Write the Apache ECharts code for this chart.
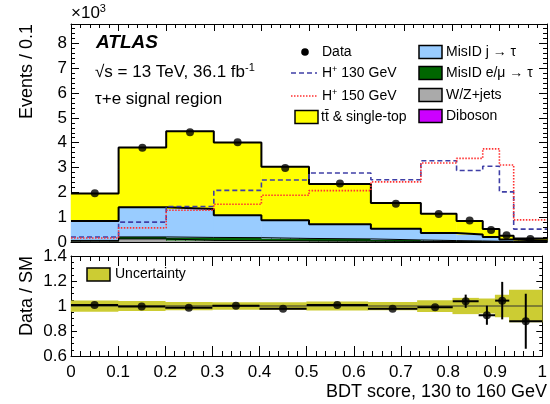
<!DOCTYPE html>
<html>
<head>
<meta charset="utf-8">
<script src="https://cdn.jsdelivr.net/npm/echarts@6/dist/echarts.min.js"></script>
<style>
  html, body { margin: 0; padding: 0; background: #fff; }
  #chart { width: 550px; height: 404px; }
</style>
</head>
<body>
<div id="chart"></div>
<script>
// Variable-width BDT score bins
const binEdges = [0, 0.1, 0.2, 0.3, 0.4, 0.5, 0.63, 0.735, 0.81, 0.865, 0.9, 0.93, 1.0];

// Event yields per bin, in units of 10^3
const dataEvents = [1.96, 3.80, 4.42, 4.02, 2.98, 2.36, 1.54, 1.13, 0.87, 0.48, 0.27, 0.12];
const ttbar      = [1.11, 2.41, 3.14, 2.93, 2.16, 1.62, 1.04, 0.77, 0.54, 0.32, 0.16, 0.09];
const misidJet   = [0.78, 1.19, 1.14, 0.90, 0.73, 0.59, 0.45, 0.31, 0.26, 0.17, 0.08, 0.04];
const misidLep   = [0.03, 0.08, 0.12, 0.12, 0.10, 0.09, 0.06, 0.04, 0.03, 0.02, 0.01, 0.008];
const wzJets     = [0.03, 0.12, 0.06, 0.05, 0.04, 0.03, 0.02, 0.015, 0.01, 0.008, 0.005, 0.003];
const diboson    = [0.003, 0.005, 0.005, 0.005, 0.004, 0.004, 0.003, 0.002, 0.002, 0.001, 0.001, 0.001];
const hplus130   = [0.20, 0.80, 1.43, 2.08, 2.50, 2.78, 2.51, 3.27, 2.88, 3.05, 2.02, 0.52];
const hplus150   = [0.16, 0.57, 1.28, 1.52, 1.88, 2.07, 2.42, 3.18, 3.37, 3.75, 3.10, 0.89];

// Data / SM ratio panel
const ratio      = [1.008, 0.997, 0.986, 1.003, 0.979, 1.008, 0.979, 0.990, 1.038, 0.926, 1.043, 0.878];
const ratioErr   = [0.004, 0.003, 0.003, 0.003, 0.004, 0.005, 0.006, 0.008, 0.053, 0.076, 0.150, 0.220];
const uncertHalf = [0.045, 0.040, 0.033, 0.030, 0.030, 0.036, 0.033, 0.047, 0.065, 0.060, 0.090, 0.130];

const COL = {
  ttbar: '#ffff00', misidJet: '#99ccff', misidLep: '#006600',
  wz: '#aaaaaa', diboson: '#cc00ff', h130: '#3f3fa6', h150: '#ff3030',
  band: '#cccc33'
};
const FONT = '"Liberation Sans", Arial, Helvetica, sans-serif';

// cumulative stack, bottom to top
function addArr(a, b) { return a.map((v, i) => v + b[i]); }
const lvl0 = binEdges.slice(1).map(() => 0);
const lvl1 = addArr(lvl0, diboson);
const lvl2 = addArr(lvl1, wzJets);
const lvl3 = addArr(lvl2, misidLep);
const lvl4 = addArr(lvl3, misidJet);
const lvl5 = addArr(lvl4, ttbar);

const centers = binEdges.slice(0, -1).map((e, i) => (e + binEdges[i + 1]) / 2);

function fillSeries(lower, upper, color, xi, yi, z) {
  return {
    type: 'custom', xAxisIndex: xi, yAxisIndex: yi, silent: true, z: z || 1,
    animation: false,
    data: lower.map((lo, i) => [binEdges[i], binEdges[i + 1], lo, upper[i]]),
    encode: { x: [0, 1], y: [2, 3] },
    renderItem: function (params, api) {
      const p0 = api.coord([api.value(0), api.value(3)]);
      const p1 = api.coord([api.value(1), api.value(2)]);
      // widen by half a pixel so neighbouring bins leave no seam
      return {
        type: 'rect',
        shape: { x: p0[0] - 0.25, y: p0[1], width: p1[0] - p0[0] + 0.5, height: p1[1] - p0[1] },
        style: { fill: color }
      };
    }
  };
}

function stepPoints(vals) {
  const pts = [];
  vals.forEach((v, i) => { pts.push([binEdges[i], v]); pts.push([binEdges[i + 1], v]); });
  return pts;
}

function stepLine(vals, color, width, type, z) {
  return {
    type: 'line', xAxisIndex: 0, yAxisIndex: 0, data: stepPoints(vals),
    symbol: 'none', silent: true, animation: false, z: z || 3,
    lineStyle: { color: color, width: width, type: type || 'solid' }
  };
}

function xAxisCfg(grid, pos, showLabels, major, minor) {
  return {
    type: 'value', gridIndex: grid, position: pos, min: 0, max: 1, interval: 0.1,
    axisLine: { show: true, onZero: false, lineStyle: { color: '#000', width: 1 } },
    axisTick: { show: true, inside: true, length: major, lineStyle: { color: '#000', width: 1 } },
    minorTick: { show: true, splitNumber: 5, length: minor, lineStyle: { color: '#000', width: 1 } },
    splitLine: { show: false }, minorSplitLine: { show: false },
    axisLabel: {
      show: showLabels, color: '#000', fontFamily: FONT, fontSize: 17, margin: 8,
      formatter: v => String(Math.round(v * 10) / 10)
    }
  };
}

function yAxisCfg(grid, pos, min, max, interval, split, showLabels, major, minor, fmt) {
  return {
    type: 'value', gridIndex: grid, position: pos, min: min, max: max, interval: interval,
    axisLine: { show: true, onZero: false, lineStyle: { color: '#000', width: 1 } },
    axisTick: { show: true, inside: true, length: major, lineStyle: { color: '#000', width: 1 } },
    minorTick: { show: true, splitNumber: split, length: minor, lineStyle: { color: '#000', width: 1 } },
    splitLine: { show: false }, minorSplitLine: { show: false },
    axisLabel: { show: showLabels, color: '#000', fontFamily: FONT, fontSize: 17, margin: 4, formatter: fmt }
  };
}

const intFmt = v => (Math.abs(v - Math.round(v)) < 1e-6 ? String(Math.round(v)) : '');
const ratioFmt = v => String(Math.round(v * 10) / 10);

const series = [
  // stacked backgrounds
  fillSeries(lvl0, lvl1, COL.diboson, 0, 0),
  fillSeries(lvl1, lvl2, COL.wz, 0, 0),
  fillSeries(lvl2, lvl3, COL.misidLep, 0, 0),
  fillSeries(lvl3, lvl4, COL.misidJet, 0, 0),
  fillSeries(lvl4, lvl5, COL.ttbar, 0, 0),
  stepLine(lvl2, '#000', 1, 'solid', 2),
  stepLine(lvl3, '#000', 1, 'solid', 2),
  stepLine(lvl4, '#000', 2, 'solid', 3),
  stepLine(lvl5, '#000', 2, 'solid', 3),
  // signal hypotheses
  stepLine(hplus130, COL.h130, 1.6, [5, 3], 4),
  stepLine(hplus150, COL.h150, 1.6, [1.5, 1.5], 4),
  // data
  {
    type: 'scatter', xAxisIndex: 0, yAxisIndex: 0, silent: true, animation: false, z: 6,
    data: centers.map((c, i) => [c, dataEvents[i]]),
    symbol: 'circle', symbolSize: 8, itemStyle: { color: '#000' }
  },
  // ratio panel: uncertainty band
  fillSeries(uncertHalf.map(u => 1 - u), uncertHalf.map(u => 1 + u), COL.band, 2, 2, 1),
  {
    type: 'line', xAxisIndex: 2, yAxisIndex: 2, data: [[0, 1], [1, 1]], symbol: 'none',
    silent: true, animation: false, z: 2, lineStyle: { color: '#333', width: 1 }
  },
  // ratio error bars
  {
    type: 'custom', xAxisIndex: 2, yAxisIndex: 2, silent: true, animation: false, z: 4,
    data: ratio.map((r, i) => [binEdges[i], binEdges[i + 1], r, ratioErr[i], centers[i]]),
    encode: { x: [0, 1], y: 2 },
    renderItem: function (params, api) {
      const x0 = api.value(0), x1 = api.value(1), r = api.value(2), e = api.value(3), xc = api.value(4);
      const a = api.coord([x0, r]), b = api.coord([x1, r]);
      const lo = api.coord([xc, r - e]), hi = api.coord([xc, r + e]);
      return {
        type: 'group',
        children: [
          { type: 'line', shape: { x1: a[0], y1: a[1], x2: b[0], y2: b[1] }, style: { stroke: '#000', lineWidth: 2 } },
          { type: 'line', shape: { x1: lo[0], y1: lo[1], x2: hi[0], y2: hi[1] }, style: { stroke: '#000', lineWidth: 2 } }
        ]
      };
    }
  },
  {
    type: 'scatter', xAxisIndex: 2, yAxisIndex: 2, silent: true, animation: false, z: 5,
    data: centers.map((c, i) => [c, ratio[i]]),
    symbol: 'circle', symbolSize: 8, itemStyle: { color: '#000' }
  }
];

// legend and annotations
const legendFont = { fontFamily: FONT, fontSize: 14, fill: '#000' };
function legText(x, y, text, rich) {
  return { type: 'text', x: x, y: y, silent: true,
    style: Object.assign({ text: text, textVerticalAlign: 'middle', textAlign: 'left', rich: rich }, legendFont) };
}
function legBox(x, y, color) {
  return { type: 'rect', silent: true, shape: { x: x, y: y - 6.5, width: 23, height: 13 },
    style: { fill: color, stroke: '#000', lineWidth: 1.5 } };
}
const supRich = { sup: { fontFamily: FONT, fontSize: 9, verticalAlign: 'top', padding: [0, 0, 6, 0] } };

const graphics = [
  { type: 'text', x: 71, y: 13, silent: true,
    style: { text: '×10{s|3}', fontFamily: FONT, fontSize: 17, fill: '#000', textVerticalAlign: 'middle',
      rich: { s: { fontFamily: FONT, fontSize: 11, padding: [0, 0, 9, 0] } } } },
  { type: 'text', x: 96, y: 43, silent: true,
    style: { text: 'ATLAS', fontFamily: FONT, fontSize: 19, fontWeight: 'bold', fontStyle: 'italic', fill: '#000', textVerticalAlign: 'middle' } },
  { type: 'text', x: 95, y: 72, silent: true,
    style: { text: '√s = 13 TeV, 36.1 fb{s|-1}', fontFamily: FONT, fontSize: 17, fill: '#000', textVerticalAlign: 'middle',
      rich: { s: { fontFamily: FONT, fontSize: 11, padding: [0, 0, 9, 0] } } } },
  { type: 'text', x: 95, y: 99, silent: true,
    style: { text: 'τ+e signal region', fontFamily: FONT, fontSize: 17, fill: '#000', textVerticalAlign: 'middle' } },

  { type: 'circle', silent: true, shape: { cx: 305, cy: 52, r: 3.8 }, style: { fill: '#000' } },
  legText(322, 52, 'Data'),
  { type: 'line', silent: true, shape: { x1: 291, y1: 73, x2: 317, y2: 73 }, style: { stroke: COL.h130, lineWidth: 1.6, lineDash: [5, 3] } },
  legText(322, 73, 'H{sup|+} 130 GeV', supRich),
  { type: 'line', silent: true, shape: { x1: 291, y1: 96, x2: 317, y2: 96 }, style: { stroke: COL.h150, lineWidth: 1.6, lineDash: [1.5, 1.5] } },
  legText(322, 96, 'H{sup|+} 150 GeV', supRich),
  legBox(295, 117, COL.ttbar),
  legText(321, 117, 'tt\u0304 & single-top'),

  legBox(419, 52, COL.misidJet),
  legText(446, 52, 'MisID j → τ'),
  legBox(419, 73, COL.misidLep),
  legText(446, 73, 'MisID e/μ → τ'),
  legBox(419, 95, COL.wz),
  legText(446, 95, 'W/Z+jets'),
  legBox(419, 116, COL.diboson),
  legText(446, 116, 'Diboson'),

  legBox(87, 274.5, COL.band),
  legText(115, 274.5, 'Uncertainty'),

  { type: 'text', x: 27, y: 24, rotation: Math.PI / 2, silent: true,
    style: { text: 'Events / 0.1', fontFamily: FONT, fontSize: 18, fill: '#000', textAlign: 'right', textVerticalAlign: 'middle' } },
  { type: 'text', x: 27, y: 256, rotation: Math.PI / 2, silent: true,
    style: { text: 'Data / SM', fontFamily: FONT, fontSize: 18, fill: '#000', textAlign: 'right', textVerticalAlign: 'middle' } },
  { type: 'text', x: 547, y: 392, silent: true,
    style: { text: 'BDT score, 130 to 160 GeV', fontFamily: FONT, fontSize: 18, fill: '#000', textAlign: 'right', textVerticalAlign: 'middle' } }
];

const chart = echarts.init(document.getElementById('chart'), null, { renderer: 'canvas' });
chart.setOption({
  backgroundColor: '#fff',
  animation: false,
  grid: [
    { left: 71, top: 24, width: 476, height: 218 },
    { left: 71, top: 256, width: 476, height: 100 }
  ],
  xAxis: [
    xAxisCfg(0, 'bottom', false, 7, 4),
    xAxisCfg(0, 'top', false, 7, 4),
    xAxisCfg(1, 'bottom', true, 10, 5),
    xAxisCfg(1, 'top', false, 10, 5)
  ],
  yAxis: [
    yAxisCfg(0, 'left', 0, 8.78, 1, 5, true, 8, 4, intFmt),
    yAxisCfg(0, 'right', 0, 8.78, 1, 5, false, 8, 4, intFmt),
    yAxisCfg(1, 'left', 0.6, 1.4, 0.2, 4, true, 6, 3, ratioFmt),
    yAxisCfg(1, 'right', 0.6, 1.4, 0.2, 4, false, 6, 3, ratioFmt)
  ],
  series: series,
  graphic: graphics
});
</script>
</body>
</html>
